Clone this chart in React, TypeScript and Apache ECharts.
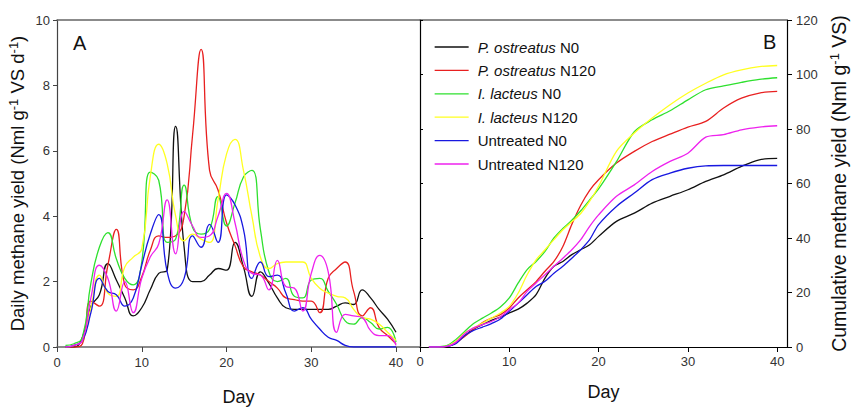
import React, { useEffect, useRef } from "react";
import * as echarts from "echarts";

const seriesNames = [
  "P. ostreatus N0",
  "P. ostreatus N120",
  "I. lacteus N0",
  "I. lacteus N120",
  "Untreated N0",
  "Untreated N120",
];
const seriesColors = ["#111111", "#e82020", "#2ee02e", "#ffff20", "#1818e0", "#ee22ee"];

const xTicks = [0, 10, 20, 30, 40];

// Panel A: daily methane yield, days 1..40
const dailyDays = [
  1, 2, 3, 4, 5, 6, 7, 8, 9, 10, 11, 12, 13, 14, 15, 16, 17, 18, 19, 20,
  21, 22, 23, 24, 25, 26, 27, 28, 29, 30, 31, 32, 33, 34, 35, 36, 37, 38, 39, 40,
];
const dailyPoN0 = [0, 0, 0.3, 1.25, 1.6, 2.55, 2.05, 1.5, 0.95, 1.2, 1.75, 2.25, 2.35, 6.75, 3.05, 2.0, 2.0, 2.2, 2.4, 2.35, 3.2, 2.45, 1.55, 2.3, 1.95, 1.5, 1.2, 1.15, 1.15, 1.15, 1.15, 1.15, 1.25, 1.35, 1.3, 1.75, 1.5, 1.15, 0.85, 0.45];
const dailyPoN120 = [0, 0, 0.1, 1.4, 1.25, 2.5, 3.6, 1.9, 1.75, 2.15, 2.95, 3.4, 3.35, 3.4, 4.0, 6.5, 9.1, 5.4, 4.8, 3.8, 3.1, 2.45, 2.3, 2.2, 2.0, 1.8, 1.5, 1.45, 1.4, 1.4, 1.05, 2.1, 2.4, 2.6, 1.7, 0.95, 1.2, 0.6, 0.35, 0.1];
const dailyIlN0 = [0.05, 0.1, 0.3, 1.95, 3.05, 3.5, 2.7, 2.1, 1.9, 2.6, 5.35, 5.1, 3.2, 3.3, 4.95, 3.65, 3.45, 3.6, 4.6, 3.7, 4.4, 5.2, 5.4, 3.6, 2.3, 2.0, 2.1, 1.55, 1.5, 2.05, 2.1, 1.7, 1.3, 0.8, 0.7, 0.9, 0.75, 0.55, 0.6, 0.15];
const dailyIlN120 = [0, 0.05, 0.2, 1.2, 2.2, 1.65, 1.55, 2.45, 2.75, 3.0, 5.2, 6.2, 5.6, 4.0, 3.25, 3.45, 3.3, 3.2, 4.5, 5.9, 6.35, 5.4, 4.0, 2.75, 2.4, 2.55, 2.6, 2.6, 2.6, 2.1, 1.8, 1.65, 1.55, 1.5, 1.15, 0.9, 0.85, 0.7, 0.45, 0.2];
const dailyUnN0 = [0, 0.05, 0.2, 1.05, 2.1, 1.7, 1.6, 1.25, 1.5, 2.5, 3.45, 4.05, 2.3, 1.8, 2.1, 3.4, 3.05, 3.75, 3.2, 4.65, 4.35, 3.6, 2.1, 2.6, 2.15, 2.2, 1.65, 1.1, 1.2, 0.85, 0.55, 0.3, 0.2, 0.05, 0, 0, 0, 0, 0, 0];
const dailyUnN120 = [0, 0.05, 0.2, 1.5, 2.5, 2.1, 1.1, 2.0, 1.05, 2.1, 2.75, 3.15, 4.5, 2.85, 4.15, 3.7, 3.35, 3.4, 4.0, 4.7, 3.8, 2.65, 2.25, 2.2, 1.75, 2.65, 1.85, 1.8, 1.1, 2.25, 2.8, 2.3, 0.45, 1.0, 0.95, 0.9, 0.5, 0.35, 0.35, 0.05];

// Panel B: cumulative methane yield
const cumDays = [
  1, 2, 3, 4, 5, 6, 7, 8, 9, 10, 11, 12, 13, 14, 15, 16, 17, 18, 19, 20,
  22, 24, 26, 28, 30, 32, 34, 36, 38, 40,
];
const cumPoN0 = [0, 0, 0.2, 1.5, 4.2, 6.6, 8.2, 9.8, 11, 12.5, 13.9, 16.1, 19.2, 25.3, 29.6, 31.4, 33.9, 35.7, 37.5, 40.6, 46.1, 49.1, 52.8, 55.3, 57.7, 60.8, 63.2, 66.3, 68.7, 69.2];
const cumPoN120 = [0, 0, 0.2, 1.5, 3.9, 6.4, 9, 10.6, 11.9, 14.3, 18, 21, 24, 27.8, 31.4, 36.9, 45, 52, 57.5, 61.4, 67.5, 71.8, 75.4, 78.1, 80.7, 82.8, 87.7, 91.3, 93.2, 93.8];
const cumIlN0 = [0, 0.1, 0.5, 2.7, 5.7, 8.6, 10.6, 12.5, 14.7, 18, 23.5, 28.4, 31.4, 35.1, 40, 43.5, 46.5, 50, 54, 58, 68, 79, 83.4, 86.7, 90.7, 94.4, 95.8, 97.1, 98.2, 98.8];
const cumIlN120 = [0, 0, 0.3, 2.1, 5.1, 7, 8.8, 10.6, 12.5, 14.9, 19.8, 26.5, 32, 35.7, 39.4, 43, 46, 49, 53.5, 59, 71.8, 78.5, 84, 88.9, 93.2, 96.8, 99.9, 101.7, 102.9, 103.3];
const cumUnN0 = [0, 0, 0.2, 1.2, 4.2, 6.1, 7.3, 8.6, 10.3, 13.1, 16.1, 19.2, 22.2, 24.1, 27.1, 29.6, 32.6, 35.7, 39.4, 44.9, 51.6, 56.5, 61.4, 63.8, 65.6, 66.5, 66.6, 66.6, 66.6, 66.6];
const cumUnN120 = [0, 0, 0.2, 1.7, 4.9, 7, 8.2, 9.4, 11, 13.7, 16.1, 20.4, 23.5, 26.5, 29.6, 32.6, 35.7, 39.4, 44.3, 48.5, 55.3, 59.5, 64.4, 68.1, 71.1, 77, 77.9, 79.7, 80.7, 81.2];

const dailyValues = [dailyPoN0, dailyPoN120, dailyIlN0, dailyIlN120, dailyUnN0, dailyUnN120];
const cumValues = [cumPoN0, cumPoN120, cumIlN0, cumIlN120, cumUnN0, cumUnN120];

const FONT = "'Liberation Sans', Arial, sans-serif";

export default function App() {
  const ref = useRef<HTMLDivElement>(null);

  useEffect(() => {
    if (!ref.current) return;
    const chart = echarts.init(ref.current, undefined, { renderer: "svg" });

    const richFor = (size: number) => ({
      n: { fontSize: size, color: "#111", fontFamily: FONT, lineHeight: size + 3 },
      s: { fontSize: Math.round(size * 0.68), color: "#111", fontFamily: FONT, verticalAlign: "top", lineHeight: 12 },
    });

    const dailySeries = seriesNames.map((name, i) => ({
      name,
      type: "line",
      xAxisIndex: 0,
      yAxisIndex: 0,
      smooth: 0.5,
      symbol: "none",
      lineStyle: { color: seriesColors[i], width: 1.3 },
      itemStyle: { color: seriesColors[i] },
      data: dailyDays.map((d, k) => [d, dailyValues[i][k]]),
      z: 3,
    }));
    const cumSeries = seriesNames.map((name, i) => ({
      name,
      type: "line",
      xAxisIndex: 2,
      yAxisIndex: 1,
      smooth: 0.3,
      symbol: "none",
      lineStyle: { color: seriesColors[i], width: 1.3 },
      itemStyle: { color: seriesColors[i] },
      data: cumDays.map((d, k) => [d, cumValues[i][k]]),
      z: 3,
    }));

    const tickLabel = { fontSize: 13, color: "#333", fontFamily: FONT };

    chart.setOption({
      animation: false,
      backgroundColor: "#ffffff",
      textStyle: { fontFamily: FONT },
      grid: [
        { left: 57, top: 20, width: 363, height: 327 },
        { left: 420, top: 20, width: 367, height: 327 },
      ],
      xAxis: [
        {
          gridIndex: 0,
          type: "value",
          position: "bottom",
          min: 0,
          max: 42.83,
          axisLine: { show: true, onZero: false, lineStyle: { color: "#666", width: 1.5 } },
          axisTick: { show: true, customValues: xTicks, length: 5, lineStyle: { color: "#444" } },
          axisLabel: { customValues: xTicks, margin: 9, ...tickLabel },
          splitLine: { show: false },
          name: "Day",
          nameLocation: "middle",
          nameGap: 41,
          nameTextStyle: { fontSize: 18, color: "#111", fontFamily: FONT },
        },
        {
          gridIndex: 0,
          type: "value",
          position: "top",
          min: 0,
          max: 42.83,
          axisLine: { show: true, onZero: false, lineStyle: { color: "#666", width: 1.5 } },
          axisTick: { show: false },
          axisLabel: { show: false },
          splitLine: { show: false },
        },
        {
          gridIndex: 1,
          type: "value",
          position: "bottom",
          min: 0,
          max: 41.1,
          axisLine: { show: true, onZero: false, lineStyle: { color: "#000", width: 1.2 } },
          axisTick: { show: true, customValues: xTicks, length: 5, lineStyle: { color: "#000" } },
          axisLabel: { customValues: xTicks, margin: 8, ...tickLabel },
          splitLine: { show: false },
          name: "Day",
          nameLocation: "middle",
          nameGap: 36,
          nameTextStyle: { fontSize: 18, color: "#111", fontFamily: FONT },
        },
        {
          gridIndex: 1,
          type: "value",
          position: "top",
          min: 0,
          max: 41.1,
          axisLine: { show: true, onZero: false, lineStyle: { color: "#666", width: 1.5 } },
          axisTick: { show: false },
          axisLabel: { show: false },
          splitLine: { show: false },
        },
      ],
      yAxis: [
        {
          gridIndex: 0,
          type: "value",
          position: "left",
          min: 0,
          max: 10,
          interval: 2,
          axisLine: { show: true, onZero: false, lineStyle: { color: "#444", width: 1.2 } },
          axisTick: { show: true, length: 4, lineStyle: { color: "#444" } },
          axisLabel: { margin: 7, ...tickLabel },
          splitLine: { show: false },
          name: "{n|Daily methane yield (Nml g}{s|-1}{n| VS d}{s|-1}{n|)}",
          nameLocation: "middle",
          nameRotate: 90,
          nameGap: 29,
          nameTextStyle: { rich: richFor(18.5) },
        },
        {
          gridIndex: 1,
          type: "value",
          position: "right",
          min: 0,
          max: 120,
          interval: 20,
          axisLine: { show: true, onZero: false, lineStyle: { color: "#000", width: 1.2 } },
          axisTick: { show: true, length: 5, lineStyle: { color: "#000" } },
          axisLabel: { margin: 9, ...tickLabel },
          splitLine: { show: false },
          name: "{n|Cumulative methane yield (Nml g}{s|-1}{n| VS)}",
          nameLocation: "middle",
          nameRotate: 90,
          nameGap: 41,
          nameTextStyle: { rich: richFor(19.5) },
        },
        {
          gridIndex: 1,
          type: "value",
          position: "left",
          min: 0,
          max: 120,
          interval: 20,
          axisLine: { show: true, onZero: false, lineStyle: { color: "#000", width: 1.2 } },
          axisTick: { show: true, inside: true, length: 3, lineStyle: { color: "#000" } },
          axisLabel: { show: false },
          splitLine: { show: false },
        },
      ],
      legend: {
        data: seriesNames,
        orient: "vertical",
        left: 434,
        top: 39,
        padding: 0,
        itemWidth: 34,
        itemHeight: 16,
        itemGap: 7.4,
        selectedMode: false,
        itemStyle: { opacity: 0, color: "rgba(0,0,0,0)", borderWidth: 0 },
        lineStyle: { width: 1.3 },
        formatter: (name: string) => {
          const m = name.match(/^(P\. ostreatus|I\. lacteus)\s(.*)$/);
          if (m) return `{i|${m[1]}}{r| ${m[2]}}`;
          return `{p|${name}}`;
        },
        textStyle: {
          fontSize: 15,
          color: "#111",
          fontFamily: FONT,
          lineHeight: 16,
          rich: {
            i: { fontSize: 15, fontStyle: "italic", color: "#111", fontFamily: FONT, padding: [0, 0, 0, 4] },
            r: { fontSize: 15, color: "#111", fontFamily: FONT },
            p: { fontSize: 15, color: "#111", fontFamily: FONT, padding: [0, 0, 0, 4] },
          },
        },
      },
      graphic: [
        {
          type: "text",
          left: 73,
          top: 33,
          style: { text: "A", fontSize: 20, fill: "#111", fontFamily: FONT },
        },
        {
          type: "text",
          left: 763,
          top: 32,
          style: { text: "B", fontSize: 20, fill: "#111", fontFamily: FONT },
        },
      ],
      series: [...dailySeries, ...cumSeries],
    });

    return () => {
      chart.dispose();
    };
  }, []);

  return (
    <div
      ref={ref}
      style={{ position: "fixed", left: 0, top: 0, width: 852, height: 411, background: "#fff" }}
    />
  );
}
